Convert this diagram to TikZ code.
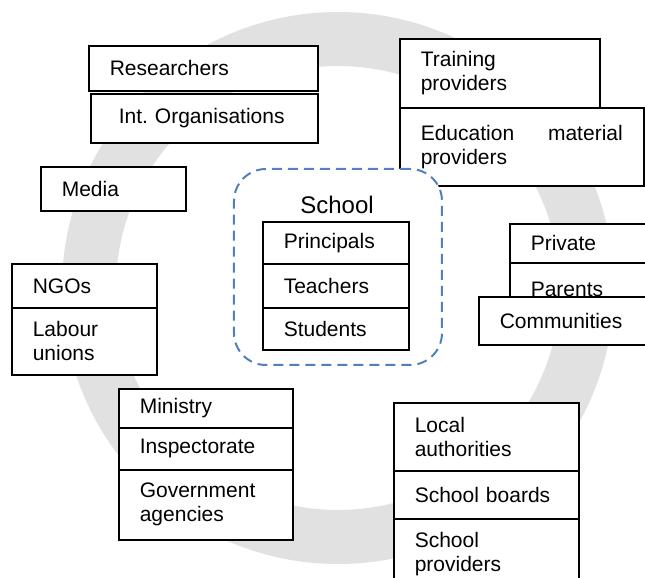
\documentclass[tikz,border=0pt]{standalone}
\usepackage{fontspec}
\setmainfont{Liberation Sans}
\definecolor{ringgray}{RGB}{225,225,225}
\definecolor{schoolblue}{RGB}{79,129,189}

\begin{document}
\begin{tikzpicture}[x=0.5pt,y=-0.5pt,
		font=\fontsize{10.5}{12}\selectfont,
		box/.style={draw,line width=0.8pt,fill=white,anchor=north west,inner xsep=10.5pt,inner ysep=0pt,align=left},
		group/.style={draw=schoolblue,line width=1pt,dash pattern=on 5pt off 3pt,rounded corners=16pt,fill=white,anchor=north west,inner sep=0pt}]
		\clip (0,0) rectangle (645,578);
		\draw[ringgray,line width=27pt] (338,288) circle[radius=124.5pt];
		
		\node[box,text width=93.5pt,minimum height=22.5pt] (res) at (88,45) {Researchers};
		\node[box,inner xsep=14pt,text width=85.5pt,minimum height=24.5pt] (intorg) at (90,93) {Int.\ Organisations};
		\node[box,text width=51.5pt,minimum height=22pt] (media) at (40,166) {Media};
		\node[box,text width=51.5pt,minimum height=22pt] (ngos) at (11,263) {NGOs};
		\node[box,text width=51.5pt,minimum height=33.5pt] (labour) at (11,307) {Labour\\unions};
		
		\node[box,text width=66pt,minimum height=19.5pt] (ministry) at (118,388) {Ministry};
		\node[box,text width=66pt,minimum height=21pt] (insp) at (118,427) {Inspectorate};
		\node[box,text width=66pt,minimum height=35pt] (gov) at (118,469) {Government\\agencies};
		
		\node[box,text width=79pt,minimum height=34.5pt] (training) at (399,38) {Training\\providers};
		\node[box,text width=101pt,minimum height=39pt] (edu) at (399,107) {Education\hfill material\\providers};
		
		\node[box,text width=79pt,minimum height=19.5pt] (private) at (509,223) {Private};
		\node[box,text width=79pt,minimum height=27pt] (parents) at (509,262) {Parents};
		\node[box,text width=79pt,minimum height=24pt] (comm) at (478,296) {Communities};
		
		\node[box,text width=71.5pt,minimum height=34pt] (local) at (393,402) {Local\\authorities};
		\node[box,text width=71.5pt,minimum height=24pt] (boards) at (393,470) {School boards};
		\node[box,text width=71.5pt,minimum height=35pt] (providers) at (393,518) {School\\providers};
		
		% school in the middle
		\node[group,minimum width=104pt,minimum height=98pt] (school) at (233,168) {};
		\node[font=\fontsize{12}{14}\selectfont] (schooltitle) at (337,205) {School};
		\node[box,text width=52pt,minimum height=21pt] (principals) at (262,221) {Principals};
		\node[box,text width=52pt,minimum height=22pt] (teachers) at (262,263) {Teachers};
		\node[box,text width=52pt,minimum height=21pt] (students) at (262,307) {Students};
\end{tikzpicture}
\end{document}
